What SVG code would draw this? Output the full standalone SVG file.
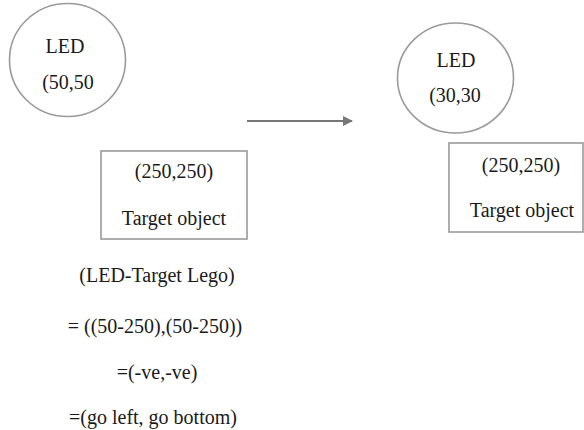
<svg xmlns="http://www.w3.org/2000/svg" width="584" height="430" viewBox="0 0 584 430">
  <style>
    .shape { fill: #ffffff; stroke: #9a9a9a; stroke-width: 1.6; }
    .lbl { font-family: 'Liberation Serif', 'Times New Roman', serif; font-size: 20px; fill: #1a1a1a; text-anchor: middle; }
    .conn { stroke: #777777; stroke-width: 2; fill: none; }
  </style>
  <defs>
    <marker id="arrow" viewBox="0 0 10 10" refX="9" refY="5" markerWidth="5" markerHeight="5" orient="auto" markerUnits="strokeWidth">
      <path d="M0,0 L10,5 L0,10 z" fill="#777777"/>
    </marker>
  </defs>
  <rect width="584" height="430" fill="#ffffff"/>

  <g id="led-start">
    <ellipse class="shape" cx="67.5" cy="60" rx="58" ry="56.5"/>
    <text class="lbl" x="65" y="53">LED</text>
    <text class="lbl" x="68" y="89">(50,50</text>
  </g>

  <g id="target-start">
    <rect class="shape" x="101" y="151" width="146" height="88"/>
    <text class="lbl" x="174" y="178">(250,250)</text>
    <text class="lbl" x="174" y="225">Target object</text>
  </g>

  <g id="calc">
    <text class="lbl" x="157" y="282">(LED-Target Lego)</text>
    <text class="lbl" x="155" y="333">= ((50-250),(50-250))</text>
    <text class="lbl" x="157" y="379">=(-ve,-ve)</text>
    <text class="lbl" x="153" y="424">=(go left, go bottom)</text>
  </g>

  <g id="led-end">
    <ellipse class="shape" cx="455.5" cy="78" rx="58" ry="55"/>
    <text class="lbl" x="456" y="67">LED</text>
    <text class="lbl" x="455" y="102">(30,30</text>
  </g>

  <g id="target-end">
    <rect class="shape" x="449" y="143" width="134" height="89"/>
    <text class="lbl" x="521" y="172">(250,250)</text>
    <text class="lbl" x="522" y="217">Target object</text>
  </g>

  <g id="connectors">
    <line class="conn" x1="247" y1="121" x2="352" y2="121" marker-end="url(#arrow)"/>
  </g>
</svg>
